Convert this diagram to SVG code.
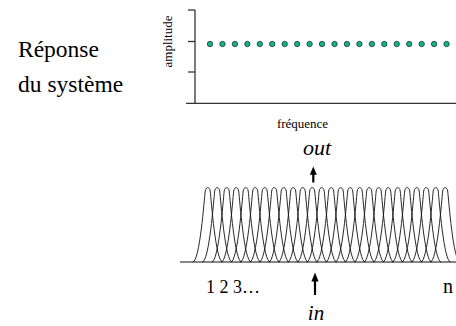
<svg xmlns="http://www.w3.org/2000/svg" xmlns:xlink="http://www.w3.org/1999/xlink" width="456" height="326" viewBox="0 0 456 326" font-family="'Liberation Serif', Tinos, 'Times New Roman', 'DejaVu Serif', serif">
<style>
text{font-family:"Liberation Serif",Tinos,"Times New Roman","DejaVu Serif",serif;fill:#000}
.ax{stroke:#333;stroke-width:1.3;fill:none}
.dot{fill:#12b389;stroke:#1d3b33;stroke-width:0.8}
.bell{fill:none;stroke:#111;stroke-width:0.9}
.arr{stroke:#000;stroke-width:2.2}
</style>
<defs>
<path id="bell" class="bell" d="M-15,262 C-8,262 -3.5,200 -2.5,191 C-1.8,186.5 1.8,186.5 2.5,191 C3.5,200 8,262 15,262"/>
</defs>
<g id="title">
<text x="18" y="56.5" font-size="23.5">Réponse</text>
<text x="18" y="92" font-size="23.5">du système</text>
</g>
<g id="response-chart">
<line class="ax" x1="195" y1="10" x2="195" y2="103.3"/>
<line class="ax" x1="186" y1="103.3" x2="456" y2="103.3"/>
<line class="ax" x1="188" y1="10" x2="195" y2="10"/>
<line class="ax" x1="188" y1="41.5" x2="195" y2="41.5"/>
<line class="ax" x1="188" y1="72" x2="195" y2="72"/>
<text font-size="13" text-anchor="middle" transform="translate(172,41.5) rotate(-90)">amplitude</text>
<text x="302.5" y="128.3" font-size="13" text-anchor="middle">fréquence</text>
<g id="dots">
<circle class="dot" cx="210" cy="44" r="2.7"/>
<circle class="dot" cx="222.45" cy="44" r="2.7"/>
<circle class="dot" cx="234.9" cy="44" r="2.7"/>
<circle class="dot" cx="247.35" cy="44" r="2.7"/>
<circle class="dot" cx="259.8" cy="44" r="2.7"/>
<circle class="dot" cx="272.25" cy="44" r="2.7"/>
<circle class="dot" cx="284.7" cy="44" r="2.7"/>
<circle class="dot" cx="297.15" cy="44" r="2.7"/>
<circle class="dot" cx="309.6" cy="44" r="2.7"/>
<circle class="dot" cx="322.05" cy="44" r="2.7"/>
<circle class="dot" cx="334.5" cy="44" r="2.7"/>
<circle class="dot" cx="346.95" cy="44" r="2.7"/>
<circle class="dot" cx="359.4" cy="44" r="2.7"/>
<circle class="dot" cx="371.85" cy="44" r="2.7"/>
<circle class="dot" cx="384.3" cy="44" r="2.7"/>
<circle class="dot" cx="396.75" cy="44" r="2.7"/>
<circle class="dot" cx="409.2" cy="44" r="2.7"/>
<circle class="dot" cx="421.65" cy="44" r="2.7"/>
<circle class="dot" cx="434.1" cy="44" r="2.7"/>
<circle class="dot" cx="446.55" cy="44" r="2.7"/>
</g>
</g>
<g id="filterbank">
<line stroke="#111" stroke-width="1.2" x1="180" y1="262" x2="456" y2="262"/>
<use xlink:href="#bell" x="207.7"/>
<use xlink:href="#bell" x="217.2"/>
<use xlink:href="#bell" x="226.7"/>
<use xlink:href="#bell" x="236.2"/>
<use xlink:href="#bell" x="245.7"/>
<use xlink:href="#bell" x="255.2"/>
<use xlink:href="#bell" x="264.7"/>
<use xlink:href="#bell" x="274.2"/>
<use xlink:href="#bell" x="283.7"/>
<use xlink:href="#bell" x="293.2"/>
<use xlink:href="#bell" x="302.7"/>
<use xlink:href="#bell" x="312.2"/>
<use xlink:href="#bell" x="321.7"/>
<use xlink:href="#bell" x="331.2"/>
<use xlink:href="#bell" x="340.7"/>
<use xlink:href="#bell" x="350.2"/>
<use xlink:href="#bell" x="359.7"/>
<use xlink:href="#bell" x="369.2"/>
<use xlink:href="#bell" x="378.7"/>
<use xlink:href="#bell" x="388.2"/>
<use xlink:href="#bell" x="397.7"/>
<use xlink:href="#bell" x="407.2"/>
<use xlink:href="#bell" x="416.7"/>
<use xlink:href="#bell" x="426.2"/>
<use xlink:href="#bell" x="435.7"/>
<use xlink:href="#bell" x="445.2"/>
<text x="206" y="293.3" font-size="18">1 2 3…</text>
<text x="443" y="293.3" font-size="20">n</text>
</g>
<g id="connectors">
<line class="arr" x1="313.3" y1="182.5" x2="313.3" y2="173"/>
<polygon points="313.3,166.5 309.8,174.8 316.8,174.8" fill="#000"/>
<line class="arr" x1="315" y1="295" x2="315" y2="280"/>
<polygon points="315,272.5 311.4,281.5 318.6,281.5" fill="#000"/>
</g>
<g id="labels">
<text x="317" y="155" font-size="22" font-style="italic" text-anchor="middle">out</text>
<text x="316" y="320" font-size="21" font-style="italic" text-anchor="middle">in</text>
</g>
</svg>
